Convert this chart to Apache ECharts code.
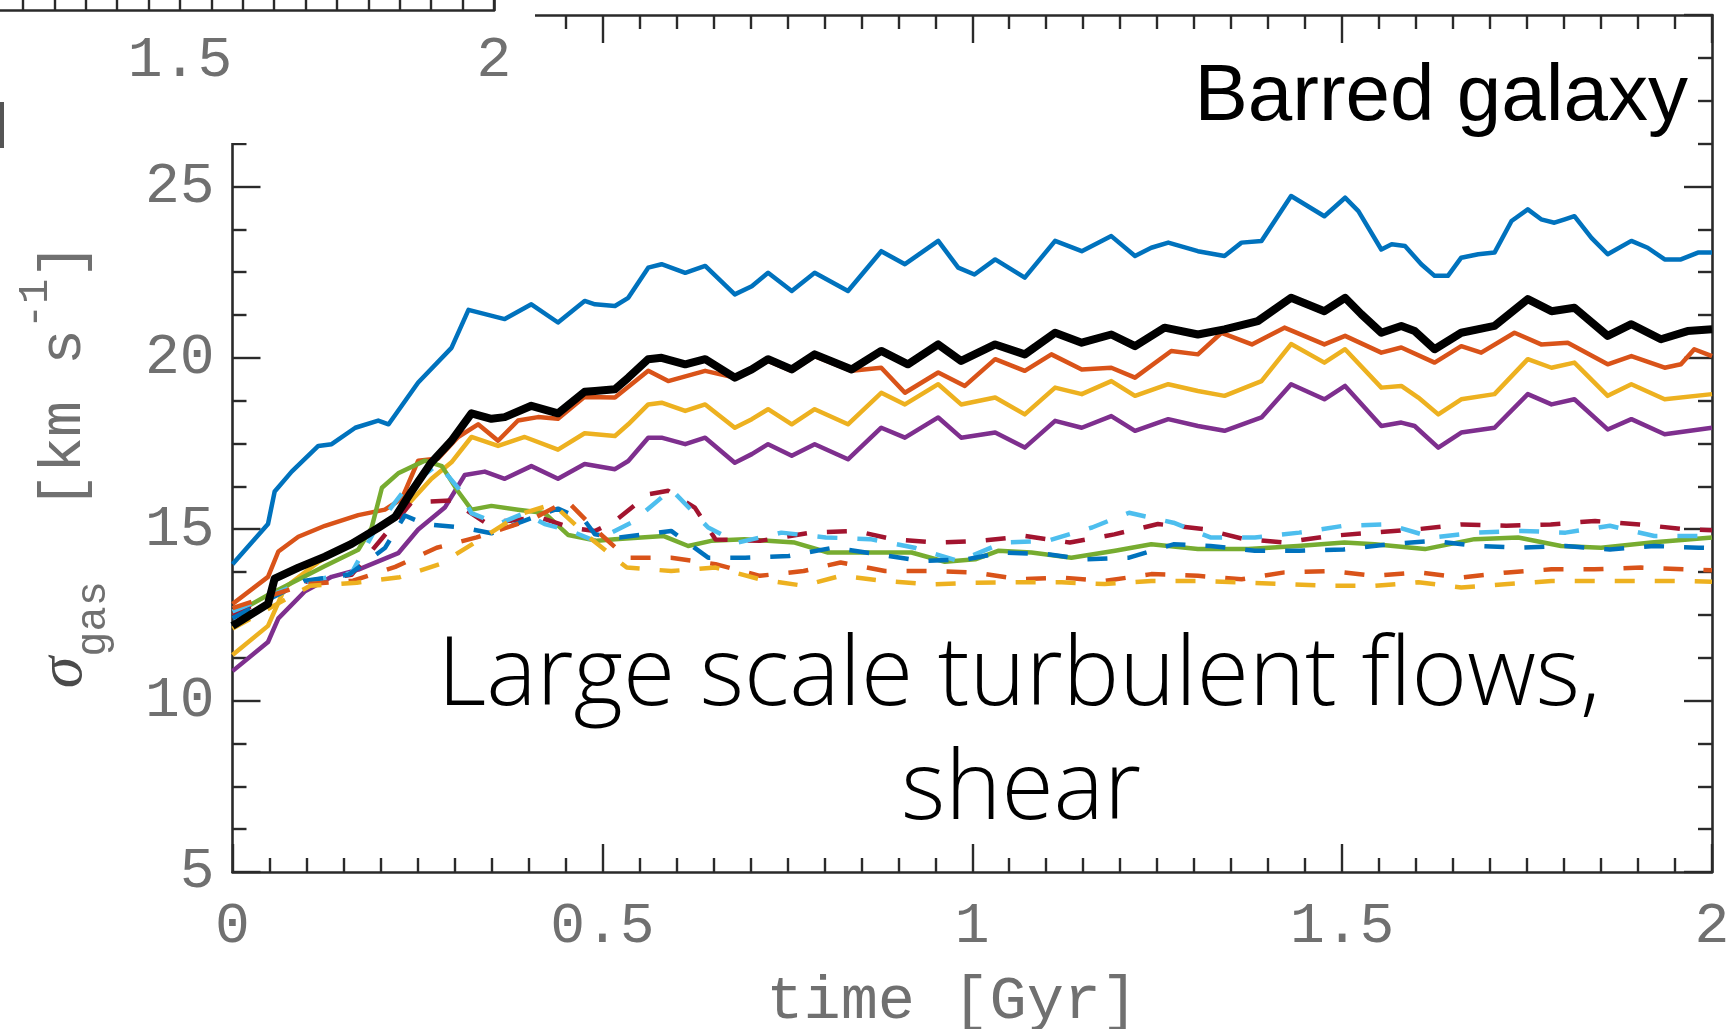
<!DOCTYPE html>
<html>
<head>
<meta charset="utf-8">
<script src="https://cdn.jsdelivr.net/npm/echarts@6/dist/echarts.min.js"></script>
<style>
html,body{margin:0;padding:0;background:#fff;}
#chart{width:1736px;height:1029px;}
</style>
</head>
<body>
<div id="chart"></div>
<script>
// ---- data: [time (Gyr), sigma_gas (km/s)] ----
const blueSolid = [[0,13.98],[0.048,15.15],[0.057,16.1],[0.08,16.68],[0.116,17.43],[0.134,17.48],[0.166,17.96],[0.197,18.17],[0.211,18.06],[0.251,19.28],[0.296,20.29],[0.319,21.4],[0.368,21.13],[0.404,21.56],[0.44,21.03],[0.476,21.66],[0.49,21.56],[0.517,21.51],[0.535,21.75],[0.562,22.63],[0.58,22.73],[0.612,22.48],[0.639,22.68],[0.679,21.85],[0.702,22.09],[0.724,22.48],[0.756,21.95],[0.787,22.48],[0.832,21.95],[0.877,23.11],[0.909,22.73],[0.954,23.41],[0.981,22.63],[1.003,22.43],[1.031,22.87],[1.071,22.34],[1.112,23.41],[1.148,23.11],[1.188,23.55],[1.22,22.97],[1.242,23.21],[1.265,23.36],[1.305,23.11],[1.341,22.97],[1.364,23.36],[1.391,23.41],[1.431,24.72],[1.476,24.13],[1.504,24.67],[1.522,24.28],[1.553,23.16],[1.567,23.31],[1.585,23.26],[1.607,22.73],[1.625,22.39],[1.643,22.39],[1.661,22.92],[1.684,23.02],[1.706,23.07],[1.729,23.99],[1.751,24.33],[1.769,24.04],[1.787,23.94],[1.801,24.04],[1.814,24.13],[1.837,23.5],[1.859,23.02],[1.891,23.41],[1.913,23.21],[1.936,22.87],[1.958,22.87],[1.981,23.07],[2.0,23.07]];
const blackSolid = [[0,12.18],[0.048,12.82],[0.057,13.56],[0.089,13.88],[0.125,14.2],[0.161,14.57],[0.197,15.04],[0.22,15.36],[0.242,16.1],[0.269,16.95],[0.296,17.58],[0.323,18.38],[0.35,18.22],[0.368,18.27],[0.404,18.6],[0.44,18.38],[0.476,19.01],[0.49,19.03],[0.517,19.08],[0.535,19.42],[0.562,19.96],[0.58,20.0],[0.612,19.81],[0.639,19.96],[0.679,19.42],[0.702,19.66],[0.724,19.96],[0.756,19.66],[0.787,20.1],[0.837,19.66],[0.877,20.2],[0.913,19.81],[0.954,20.39],[0.985,19.91],[1.031,20.39],[1.071,20.1],[1.112,20.73],[1.148,20.44],[1.188,20.68],[1.22,20.34],[1.26,20.88],[1.305,20.68],[1.341,20.83],[1.386,21.07],[1.431,21.75],[1.476,21.36],[1.504,21.75],[1.526,21.27],[1.553,20.73],[1.58,20.93],[1.598,20.78],[1.625,20.25],[1.661,20.73],[1.706,20.93],[1.751,21.71],[1.783,21.36],[1.814,21.46],[1.859,20.64],[1.891,20.98],[1.931,20.54],[1.967,20.78],[2.0,20.83]];
const orangeSolid = [[0,12.82],[0.048,13.61],[0.062,14.35],[0.089,14.78],[0.125,15.1],[0.17,15.41],[0.206,15.57],[0.229,15.89],[0.251,17.0],[0.278,17.06],[0.305,17.69],[0.332,18.06],[0.359,17.58],[0.386,18.17],[0.413,18.27],[0.44,18.22],[0.476,18.86],[0.517,18.84],[0.562,19.62],[0.589,19.32],[0.639,19.62],[0.679,19.42],[0.724,19.91],[0.756,19.62],[0.787,20.05],[0.837,19.62],[0.877,19.71],[0.909,18.98],[0.954,19.57],[0.99,19.18],[1.031,19.96],[1.071,19.62],[1.107,20.1],[1.148,19.66],[1.188,19.71],[1.22,19.42],[1.269,20.2],[1.305,20.1],[1.337,20.73],[1.378,20.39],[1.422,20.88],[1.476,20.39],[1.504,20.64],[1.553,20.15],[1.58,20.3],[1.625,19.86],[1.661,20.34],[1.688,20.15],[1.733,20.73],[1.769,20.39],[1.805,20.44],[1.859,19.81],[1.891,20.05],[1.936,19.71],[1.958,19.81],[1.976,20.25],[2.0,20.05]];
const yellowSolid = [[0,11.33],[0.048,12.18],[0.071,13.3],[0.116,14.04],[0.161,14.62],[0.197,14.99],[0.233,15.63],[0.269,16.47],[0.296,16.95],[0.323,17.69],[0.359,17.43],[0.395,17.69],[0.44,17.32],[0.476,17.8],[0.517,17.72],[0.535,18.06],[0.562,18.64],[0.58,18.69],[0.612,18.45],[0.639,18.64],[0.679,17.96],[0.702,18.21],[0.724,18.5],[0.756,18.06],[0.787,18.5],[0.832,18.06],[0.877,18.98],[0.909,18.64],[0.954,19.23],[0.985,18.64],[1.031,18.84],[1.071,18.35],[1.112,19.13],[1.148,18.94],[1.188,19.32],[1.22,18.89],[1.265,19.23],[1.305,19.03],[1.341,18.89],[1.391,19.32],[1.431,20.4],[1.476,19.86],[1.504,20.25],[1.553,19.13],[1.58,19.18],[1.603,18.84],[1.63,18.35],[1.661,18.79],[1.706,18.94],[1.751,19.96],[1.783,19.71],[1.814,19.86],[1.859,18.89],[1.891,19.23],[1.936,18.79],[2.0,18.94]];
const purpleSolid = [[0,10.86],[0.048,11.71],[0.062,12.4],[0.098,13.19],[0.134,13.61],[0.17,13.82],[0.206,14.14],[0.224,14.3],[0.251,14.99],[0.287,15.63],[0.314,16.58],[0.341,16.68],[0.368,16.47],[0.404,16.84],[0.44,16.47],[0.476,16.9],[0.517,16.75],[0.535,16.99],[0.562,17.67],[0.58,17.67],[0.612,17.48],[0.639,17.67],[0.679,16.94],[0.702,17.19],[0.724,17.48],[0.756,17.14],[0.787,17.48],[0.832,17.04],[0.877,17.96],[0.909,17.67],[0.954,18.26],[0.985,17.67],[1.031,17.82],[1.071,17.38],[1.112,18.16],[1.148,17.96],[1.188,18.3],[1.22,17.87],[1.265,18.21],[1.305,18.01],[1.341,17.87],[1.391,18.26],[1.431,19.23],[1.476,18.79],[1.504,19.18],[1.553,18.01],[1.58,18.11],[1.598,18.01],[1.63,17.38],[1.661,17.82],[1.706,17.96],[1.751,18.94],[1.783,18.64],[1.814,18.79],[1.859,17.91],[1.891,18.21],[1.936,17.77],[2.0,17.96]];
const greenSolid = [[0,12.5],[0.048,13.08],[0.125,13.93],[0.17,14.4],[0.188,15.04],[0.202,16.21],[0.224,16.63],[0.26,17.0],[0.283,16.84],[0.305,16.1],[0.323,15.57],[0.35,15.68],[0.386,15.57],[0.422,15.47],[0.454,14.83],[0.493,14.66],[0.517,14.71],[0.583,14.8],[0.616,14.51],[0.647,14.66],[0.692,14.71],[0.76,14.61],[0.805,14.32],[0.873,14.32],[0.918,14.32],[0.963,14.05],[1.004,14.12],[1.035,14.37],[1.08,14.32],[1.134,14.17],[1.193,14.37],[1.242,14.56],[1.305,14.42],[1.373,14.42],[1.44,14.51],[1.503,14.61],[1.544,14.56],[1.612,14.42],[1.679,14.71],[1.738,14.76],[1.796,14.51],[1.85,14.46],[1.918,14.61],[2.0,14.76]];
const darkRedDashed = [[0,12.5],[0.094,13.45],[0.161,13.67],[0.202,14.73],[0.242,15.78],[0.296,15.84],[0.341,15.2],[0.377,15.25],[0.413,15.36],[0.458,15.04],[0.49,14.95],[0.517,15.24],[0.562,16.02],[0.589,16.12],[0.625,15.63],[0.653,14.7],[0.713,14.66],[0.782,14.9],[0.842,14.95],[0.892,14.71],[0.952,14.61],[1.012,14.66],[1.072,14.8],[1.132,14.61],[1.192,14.85],[1.251,15.15],[1.314,15.0],[1.368,14.71],[1.422,14.61],[1.482,14.8],[1.542,14.9],[1.602,15.0],[1.662,15.14],[1.722,15.1],[1.782,15.14],[1.842,15.24],[1.902,15.14],[1.962,15.0],[2.0,14.97]];
const lightBlueDashed = [[0,12.6],[0.094,13.45],[0.161,13.72],[0.197,15.15],[0.233,16.15],[0.278,16.9],[0.305,16.2],[0.323,15.47],[0.359,15.15],[0.395,15.47],[0.422,15.15],[0.458,14.94],[0.49,14.66],[0.54,15.2],[0.593,16.16],[0.643,15.05],[0.683,14.61],[0.742,14.9],[0.802,14.76],[0.862,14.71],[0.922,14.46],[0.982,14.07],[1.042,14.61],[1.102,14.66],[1.162,15.05],[1.212,15.48],[1.272,15.19],[1.322,14.76],[1.382,14.76],[1.442,14.9],[1.502,15.1],[1.562,15.14],[1.622,14.76],[1.682,14.9],[1.742,14.95],[1.802,14.9],[1.862,15.1],[1.922,14.8],[1.982,14.8],[2.0,14.85]];
const blueDashed = [[0,12.4],[0.098,13.5],[0.157,13.67],[0.206,14.45],[0.233,15.4],[0.26,15.15],[0.314,15.04],[0.35,14.88],[0.395,15.25],[0.44,15.6],[0.476,15.25],[0.49,14.85],[0.523,14.76],[0.593,14.95],[0.643,14.17],[0.693,14.17],[0.752,14.22],[0.812,14.46],[0.872,14.27],[0.932,14.07],[0.992,14.12],[1.042,14.32],[1.102,14.27],[1.152,14.12],[1.212,14.17],[1.272,14.56],[1.322,14.51],[1.382,14.37],[1.442,14.37],[1.502,14.41],[1.562,14.56],[1.622,14.66],[1.682,14.51],[1.742,14.46],[1.802,14.51],[1.862,14.41],[1.922,14.51],[1.982,14.46],[2.0,14.45]];
const orangeDashed = [[0,12.7],[0.1,13.4],[0.163,13.5],[0.22,13.9],[0.276,14.46],[0.33,14.76],[0.406,15.3],[0.452,15.83],[0.49,15.0],[0.533,14.17],[0.593,14.17],[0.653,13.98],[0.713,13.64],[0.772,13.78],[0.822,14.03],[0.882,13.78],[0.942,13.78],[1.004,13.74],[1.062,13.54],[1.121,13.59],[1.179,13.49],[1.242,13.69],[1.305,13.64],[1.364,13.54],[1.422,13.74],[1.485,13.78],[1.544,13.64],[1.603,13.74],[1.661,13.59],[1.724,13.74],[1.783,13.83],[1.841,13.83],[1.904,13.88],[1.967,13.83],[2.0,13.8]];
const yellowDashed = [[0,12.1],[0.105,13.35],[0.168,13.44],[0.226,13.6],[0.28,13.98],[0.339,14.76],[0.389,15.44],[0.433,15.73],[0.48,14.8],[0.533,13.88],[0.593,13.78],[0.653,13.88],[0.713,13.54],[0.772,13.35],[0.822,13.64],[0.882,13.49],[0.942,13.39],[1.004,13.44],[1.062,13.45],[1.121,13.45],[1.179,13.4],[1.242,13.49],[1.305,13.49],[1.364,13.45],[1.422,13.4],[1.485,13.35],[1.544,13.35],[1.603,13.45],[1.661,13.3],[1.724,13.4],[1.783,13.49],[1.841,13.49],[1.904,13.49],[1.967,13.49],[2.0,13.47]];

const xTicksMain = [0, 2, 0.5];     // min, max, interval
const yTicksMain = [5, 30, 5];      // min, max, interval
const xTicksInset = [1, 2, 0.5];    // fragment of the neighbouring panel

const MONO = "'Courier New','Liberation Mono',monospace";
const AX = '#2a2a2a';
const LBL = '#707070';

const chart = echarts.init(document.getElementById('chart'), null, {renderer: 'canvas'});

function frameAxis(extra) {
  return Object.assign({
    type: 'value',
    axisLine: {show: true, onZero: false, lineStyle: {color: AX, width: 2.6}},
    axisTick: {show: true, inside: true, length: 28, lineStyle: {color: AX, width: 2.4}},
    minorTick: {show: true, length: 14, lineStyle: {color: AX, width: 2.4}},
    splitLine: {show: false},
    minorSplitLine: {show: false}
  }, extra);
}

function line(name, data, color, width, dashed) {
  return {
    name, type: 'line', data, xAxisIndex: 0, yAxisIndex: 0,
    showSymbol: false, symbol: 'none', silent: true,
    lineStyle: {color, width, type: dashed ? [20, 20] : 'solid', cap: 'butt', join: 'round'},
    z: dashed ? 3 : 2
  };
}

const option = {
  animation: false,
  backgroundColor: '#ffffff',
  grid: [
    {left: 232.5, right: 24, top: 15, bottom: 157, show: false, outerBoundsMode: 'none', containLabel: false},
    {left: -134, width: 628, top: -300, height: 310, show: false, outerBoundsMode: 'none', containLabel: false}
  ],
  xAxis: [
    frameAxis({gridIndex: 0, position: 'bottom', min: xTicksMain[0], max: xTicksMain[1], interval: xTicksMain[2],
      minorTick: {show: true, splitNumber: 10, length: 14, lineStyle: {color: AX, width: 2.4}},
      axisLabel: {show: true, margin: 26, color: LBL, fontFamily: MONO, fontSize: 58},
      name: 'time [Gyr]', nameLocation: 'middle', nameGap: 99,
      nameTextStyle: {color: LBL, fontFamily: MONO, fontSize: 62, padding: [0, 40, 0, 0]}}),
    frameAxis({gridIndex: 0, position: 'top', min: xTicksMain[0], max: xTicksMain[1], interval: xTicksMain[2],
      minorTick: {show: true, splitNumber: 10, length: 14, lineStyle: {color: AX, width: 2.4}},
      axisLabel: {show: false}}),
    frameAxis({gridIndex: 1, position: 'bottom', min: xTicksInset[0], max: xTicksInset[1], interval: xTicksInset[2], z: 60,
      axisTick: {show: true, inside: true, length: 14, lineStyle: {color: AX, width: 2.4}},
      minorTick: {show: true, splitNumber: 10, length: 14, lineStyle: {color: AX, width: 2.4}},
      axisLabel: {show: true, margin: 22, color: LBL, fontFamily: MONO, fontSize: 58,
        formatter: v => (v > 1.2 ? String(v) : '')}})
  ],
  yAxis: [
    frameAxis({gridIndex: 0, position: 'left', min: yTicksMain[0], max: yTicksMain[1], interval: yTicksMain[2],
      minorTick: {show: true, splitNumber: 4, length: 14, lineStyle: {color: AX, width: 2.4}},
      axisLabel: {show: true, margin: 18, color: LBL, fontFamily: MONO, fontSize: 58},
      name: '{s|σ}{sub|gas}{t|  [km s}{sup|-1}{t|]}',
      nameLocation: 'middle', nameRotate: 90, nameGap: 118,
      nameTextStyle: {color: LBL, fontFamily: MONO, fontSize: 60, padding: [0, 44, 0, 0],
        rich: {
          s: {fontFamily: "'Liberation Serif','DejaVu Serif',serif", fontStyle: 'italic', fontSize: 64, color: '#4a4a4a', lineHeight: 100, verticalAlign: 'middle'},
          t: {fontFamily: MONO, fontSize: 60, color: LBL, lineHeight: 100, verticalAlign: 'middle'},
          sub: {fontFamily: MONO, fontSize: 42, color: LBL, lineHeight: 50, verticalAlign: 'bottom'},
          sup: {fontFamily: MONO, fontSize: 42, color: LBL, lineHeight: 60, verticalAlign: 'top'}
        }}}),
    frameAxis({gridIndex: 0, position: 'right', min: yTicksMain[0], max: yTicksMain[1], interval: yTicksMain[2],
      minorTick: {show: true, splitNumber: 4, length: 14, lineStyle: {color: AX, width: 2.4}},
      axisLabel: {show: false}}),
    {gridIndex: 1, type: 'value', position: 'right', min: 0, max: 1, z: 60,
      axisLine: {show: true, lineStyle: {color: AX, width: 2.6}},
      axisTick: {show: false}, axisLabel: {show: false}, splitLine: {show: false}}
  ],
  series: [
    line('blue', blueSolid, '#0072BD', 4.5, false),
    line('orange', orangeSolid, '#D95319', 4.5, false),
    line('yellow', yellowSolid, '#EDB120', 4.5, false),
    line('purple', purpleSolid, '#7E2F8E', 4.5, false),
    line('green', greenSolid, '#77AC30', 4.5, false),
    line('darkred dashed', darkRedDashed, '#A2142F', 4.5, true),
    line('lightblue dashed', lightBlueDashed, '#4DBEEE', 4.5, true),
    line('blue dashed', blueDashed, '#0072BD', 4.5, true),
    line('orange dashed', orangeDashed, '#D95319', 4.5, true),
    line('yellow dashed', yellowDashed, '#EDB120', 4.5, true),
    Object.assign(line('black', blackSolid, '#000000', 8, false), {z: 4})
  ],
  graphic: [
    {type: 'rect', z: 50, shape: {x: 0, y: 0, width: 535, height: 143}, style: {fill: '#ffffff'}},
    {type: 'rect', z: 55, shape: {x: 0, y: 102, width: 4, height: 46}, style: {fill: '#555555'}},
    {type: 'text', z: 100, x: 1688, y: 98,
      style: {text: 'Barred galaxy', fill: '#000', font: "80px 'Liberation Sans', Arial, sans-serif",
        align: 'right', verticalAlign: 'middle',
        shadowColor: 'rgba(0,0,0,0.8)', shadowBlur: 12, shadowOffsetX: 2, shadowOffsetY: 8}},
    {type: 'text', z: 100, x: 1019, y: 678,
      style: {text: 'Large scale turbulent flows,', fill: '#000', font: "300 95px 'Open Sans', 'Liberation Sans', sans-serif",
        align: 'center', verticalAlign: 'middle'}},
    {type: 'text', z: 100, x: 1021, y: 792,
      style: {text: 'shear', fill: '#000', font: "300 95px 'Open Sans', 'Liberation Sans', sans-serif",
        align: 'center', verticalAlign: 'middle'}}
  ]
};
chart.setOption(option);
</script>
</body>
</html>
